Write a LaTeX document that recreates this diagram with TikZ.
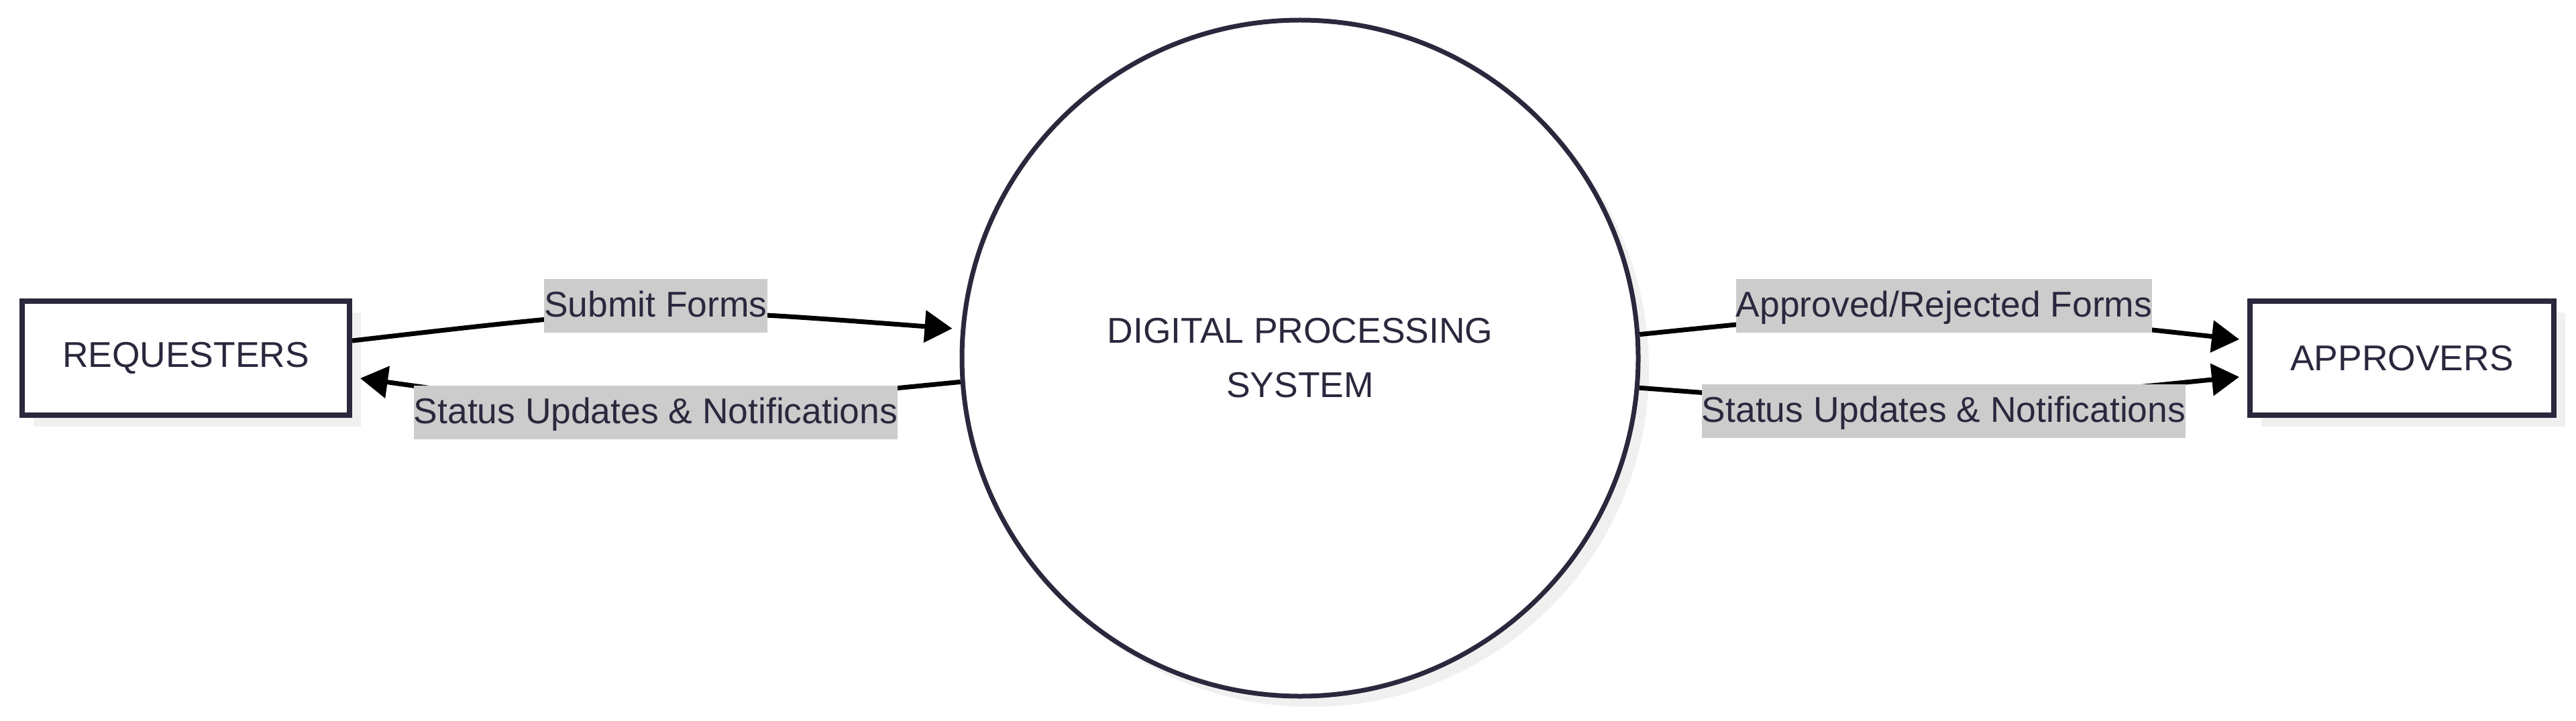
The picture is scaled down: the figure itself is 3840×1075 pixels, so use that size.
\documentclass[tikz,border=0pt]{standalone}
\usepackage{fontspec}
\setmainfont{Liberation Sans}
\usetikzlibrary{arrows.meta,shadows}
\definecolor{ink}{RGB}{41,40,61}
\definecolor{shadowc}{RGB}{240,240,240}
\definecolor{labelbg}{RGB}{204,204,204}
\begin{document}
\begin{tikzpicture}[x=1pt,y=-1pt,
  every node/.style={font=\fontsize{53.4pt}{81pt}\selectfont, text=ink},
  entity/.style={draw=ink, line width=8pt, fill=white, rectangle, minimum height=170pt, inner sep=0pt,
    drop shadow={shadow xshift=17pt, shadow yshift=-17pt, fill=shadowc, opacity=1}},
  process/.style={draw=ink, line width=7pt, fill=white, circle, minimum size=1008pt, inner sep=0pt, align=center,
    drop shadow={shadow xshift=16pt, shadow yshift=-16pt, fill=shadowc, opacity=1}},
  flow/.style={draw=black, line width=7pt, -{Triangle[length=41pt,width=47pt]}},
  flowlabel/.style={fill=labelbg, inner xsep=0pt, inner ysep=0pt, minimum height=80pt, text height=44pt, text depth=12pt}
]
\useasboundingbox (0,0) rectangle (3840,1075);

\node[entity, minimum width=488pt] (req) at (277,534) {REQUESTERS};
\node[entity, minimum width=453pt] (app) at (3580.5,534) {APPROVERS};
\node[process] (dps) at (1938,534) {DIGITAL PROCESSING\\SYSTEM};

\draw[flow] ([yshift=26pt]req.east) .. controls (974,456) .. ([xshift=-13pt]dps.175.3);
\draw[flow] (dps.184.9) .. controls (927,619) .. ([xshift=12pt,yshift=-30pt]req.east);
\draw[flow] (dps.4.6) .. controls (2868,455) .. ([xshift=-12pt,yshift=28pt]app.west);
\draw[flow] (dps.355.4) .. controls (2857,610) .. ([xshift=-12pt,yshift=-28pt]app.west);

\node[flowlabel] (l1) at (977.5,456) {Submit Forms};
\node[flowlabel] (l2) at (977.5,615) {Status Updates \& Notifications};
\node[flowlabel] (l3) at (2898,456) {Approved/Rejected Forms};
\node[flowlabel] (l4) at (2897.5,613) {Status Updates \& Notifications};
\end{tikzpicture}
\end{document}
